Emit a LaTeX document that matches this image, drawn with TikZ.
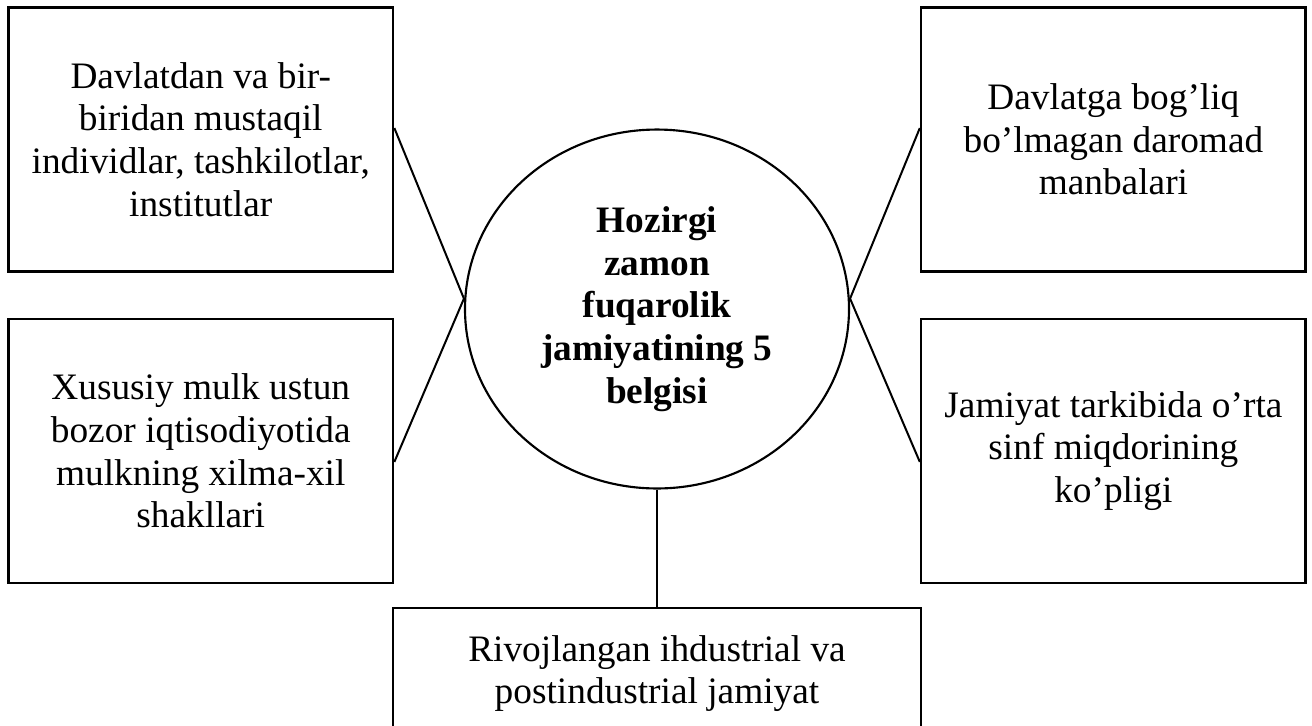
\documentclass[tikz,border=0pt]{standalone}
\usepackage{fontspec}
\setmainfont{Liberation Serif}
\usetikzlibrary{positioning, shapes.geometric}
\tikzset{
    px/.style={x=0.375pt, y=-0.375pt},
    sign/.style={rectangle, draw=black, line width=1pt, fill=white, align=center, minimum width=144.2pt, minimum height=99pt, inner sep=0pt, font=\fontsize{14}{16}\selectfont},
    core/.style={ellipse, draw=black, line width=0.8pt, align=center, minimum width=144pt, minimum height=134.6pt, inner sep=0pt, font=\fontsize{14}{16}\selectfont\bfseries},
    link/.style={draw=black, line width=0.75pt}
}

\begin{document}
\begin{tikzpicture}[px]
        \useasboundingbox (0,0) rectangle (1312,725);
        \clip (0,0) rectangle (1312,725);

        % Centre
        \node[core] (core) at (657,309) {Hozirgi\\zamon\\fuqarolik\\jamiyatining 5\\belgisi};

        % Signs
        \node[sign] (lt) at (200.75,139.5) {Davlatdan va bir-\\biridan mustaqil\\individlar, tashkilotlar,\\institutlar};
        \node[sign] (lb) at (200.75,451) {Xususiy mulk ustun\\bozor iqtisodiyotida\\mulkning xilma-xil\\shakllari};
        \node[sign] (rt) at (1113.4,139.5) {Davlatga bog’liq\\bo’lmagan daromad\\manbalari};
        \node[sign] (rb) at (1113.4,451) {Jamiyat tarkibida o’rta\\sinf miqdorining\\ko’pligi};
        \node[sign, minimum width=198pt, minimum height=49.1pt] (bot) at (657,673.5) {Rivojlangan ihdustrial va\\postindustrial jamiyat};

        % Links
        \draw[link] ([yshift=4.3pt]lt.east) -- ([yshift=3.9pt]core.west) -- ([yshift=-4.1pt]lb.east);
        \draw[link] ([yshift=4.3pt]rt.west) -- ([yshift=3.9pt]core.east) -- ([yshift=-4.1pt]rb.west);
        \draw[link] (core.south) -- (bot.north);
    \end{tikzpicture}
\end{document}
